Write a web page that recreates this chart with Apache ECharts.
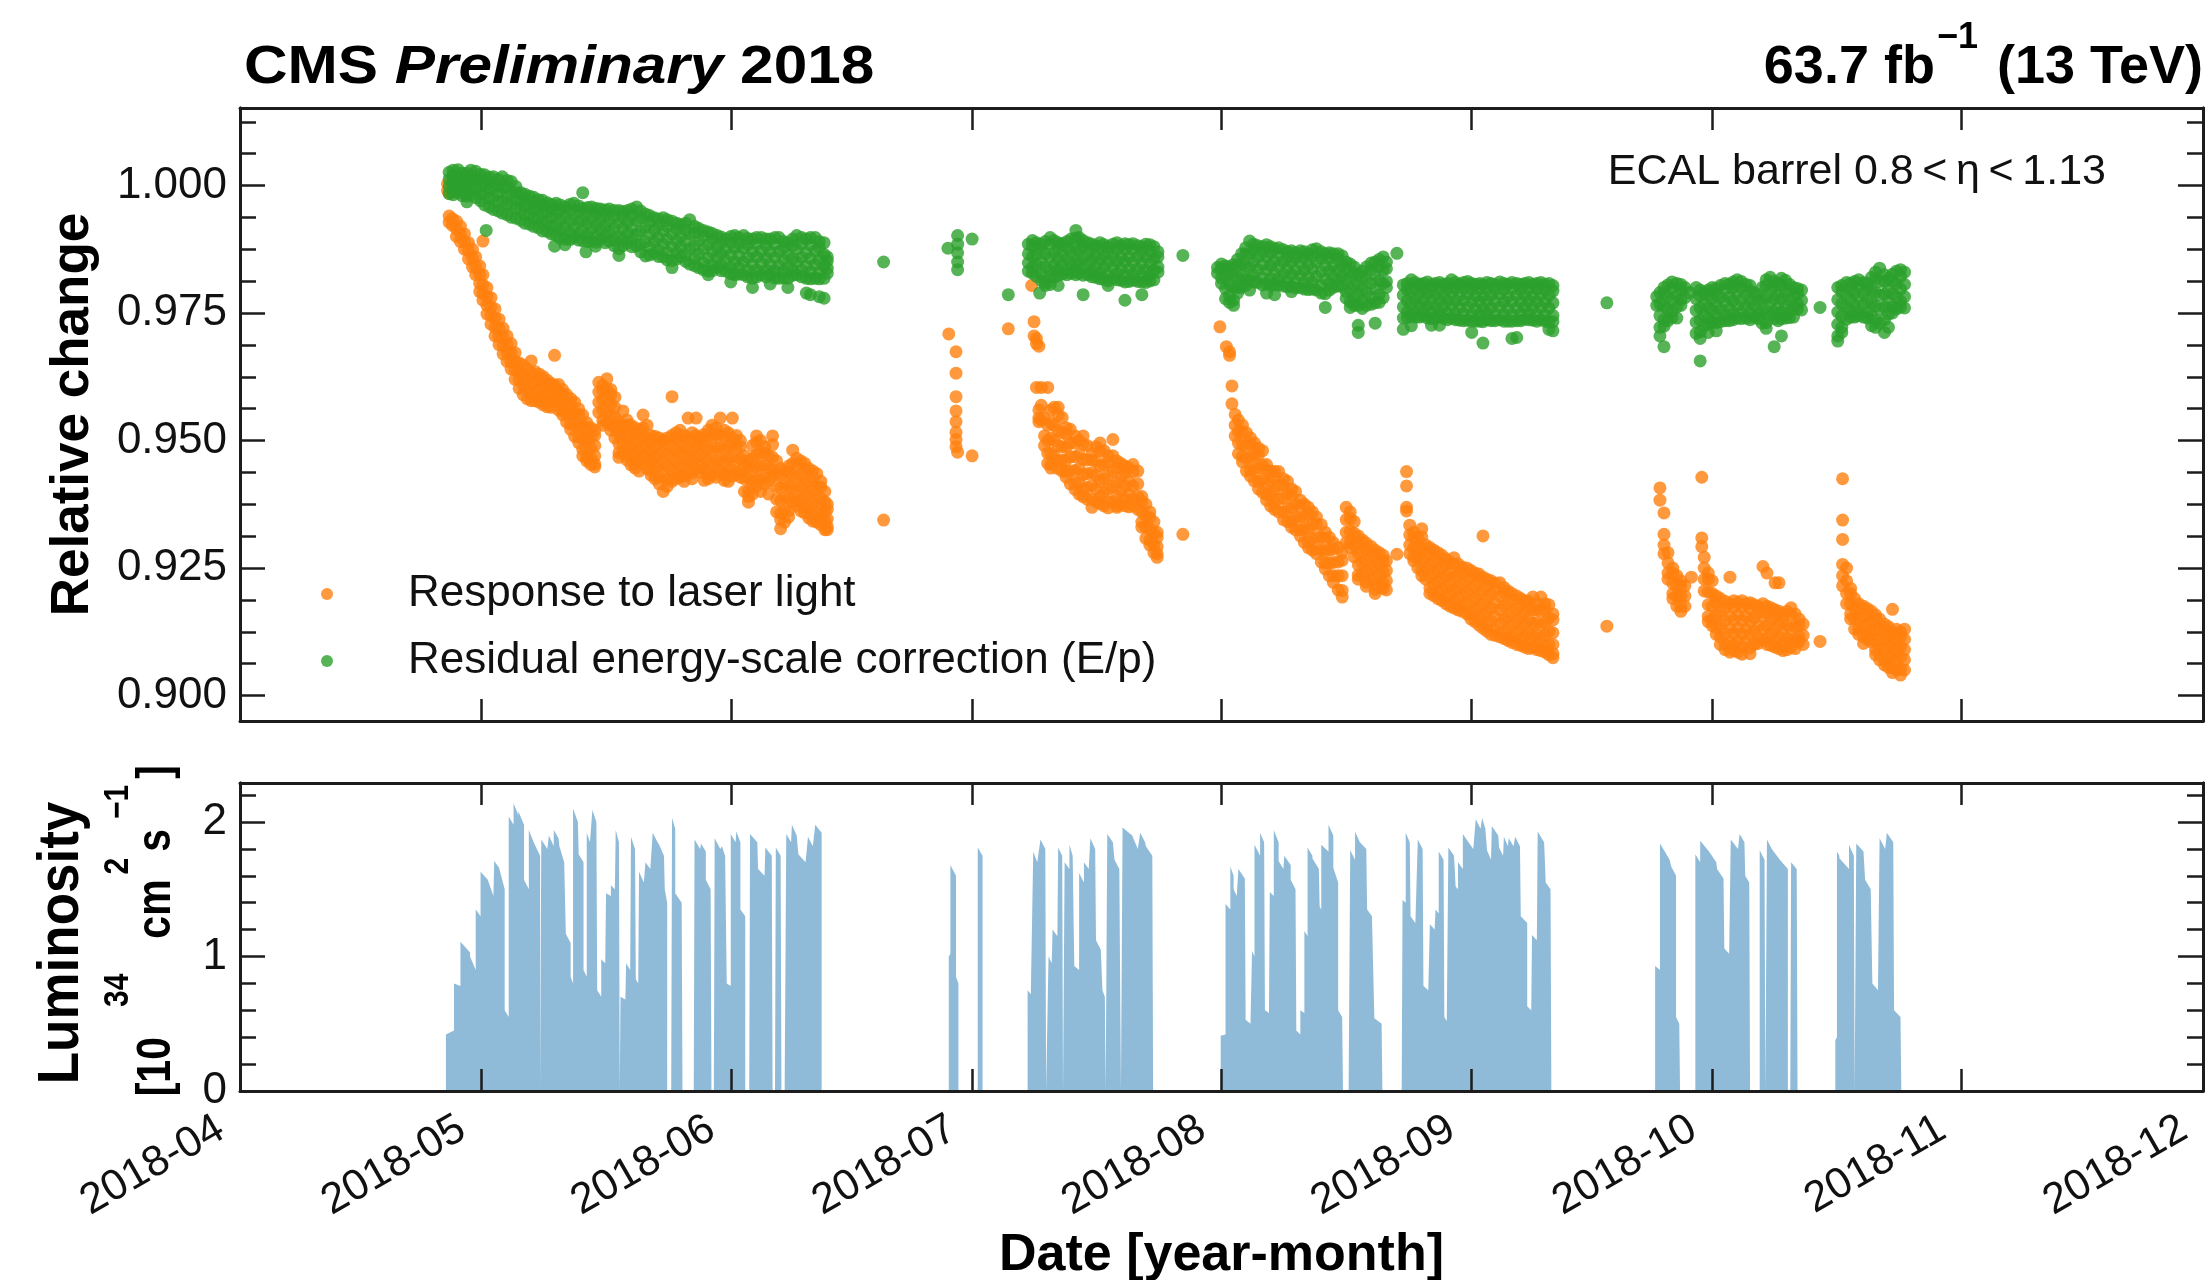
<!DOCTYPE html>
<html><head><meta charset="utf-8">
<script src="https://cdn.jsdelivr.net/npm/echarts@6/dist/echarts.min.js"></script>
<style>html,body{margin:0;padding:0;background:#fff}#c{width:2210px;height:1280px}</style>
</head><body><div id="c"></div>
<script>
// ---------- axis ticks (days since 2018-04-01) ----------
const monthDays = [0, 30, 61, 91, 122, 153, 183, 214, 244];
const monthLabels = ['2018-04', '2018-05', '2018-06', '2018-07', '2018-08', '2018-09', '2018-10', '2018-11', '2018-12'];
const relTicks = [0.900, 0.925, 0.950, 0.975, 1.000];
const relMinorTicks = [0.90625, 0.9125, 0.91875, 0.93125, 0.9375, 0.94375, 0.95625, 0.9625, 0.96875, 0.98125, 0.9875, 0.99375, 1.00625, 1.0125];
const lumiTicks = [0, 1, 2];
const lumiMinorTicks = [0.2, 0.4, 0.6, 0.8, 1.2, 1.4, 1.6, 1.8, 2.2];

// ---------- Response to laser light: [day, values...] ----------
const laserRows = [
[25.8,1.0003,0.9990],[26.0,0.9985,0.9940,0.9928],[26.4,0.9935,0.9922],[26.9,0.9930,0.9915,0.9900],
[27.4,0.9920,0.9905,0.9890],[27.9,0.9905,0.9890,0.9875],[28.4,0.9888,0.9872,0.9856],[28.9,0.9875,0.9858,0.9840],
[29.3,0.9860,0.9842,0.9825],[29.8,0.9842,0.9825,0.9808,0.9792],[30.2,0.9891,0.9825,0.9805,0.9788,0.9775],
[30.7,0.9800,0.9782,0.9765,0.9748],[31.2,0.9780,0.9762,0.9745,0.9728],[31.7,0.9758,0.9740,0.9722,0.9705],
[32.2,0.9738,0.9720,0.9704,0.9688],[32.7,0.9720,0.9702,0.9686,0.9670],[33.2,0.9705,0.9688,0.9672,0.9655],
[33.7,0.9690,0.9672,0.9655,0.9640],[34.2,0.9672,0.9655,0.9638,0.9620],[34.7,0.9652,0.9636,0.9620,0.9602],
[35.2,0.9648,0.9628,0.9608,0.9590],[35.7,0.9640,0.9620,0.9600,0.9582],[36.2,0.9656,0.9632,0.9612,0.9592,0.9578],
[36.7,0.9635,0.9615,0.9596,0.9578],[37.2,0.9630,0.9620,0.9601,0.9583,0.9575],[37.7,0.9625,0.9606,0.9588,0.9570],
[38.2,0.9618,0.9609,0.9591,0.9574,0.9566],[38.7,0.9612,0.9595,0.9578,0.9565],[39.1,0.9667,0.9608,0.9599,0.9582,0.9575],
[39.6,0.9610,0.9592,0.9575,0.9560],[40.1,0.9600,0.9591,0.9573,0.9557,0.9550],[40.6,0.9590,0.9572,0.9554,0.9536],
[41.1,0.9582,0.9572,0.9552,0.9532,0.9522],[41.6,0.9575,0.9553,0.9530,0.9508],[42.1,0.9562,0.9551,0.9529,0.9507,0.9496],
[42.6,0.9550,0.9528,0.9505,0.9483,0.9470],[43.1,0.9535,0.9525,0.9505,0.9485,0.9467,0.9460],[43.6,0.9525,0.9505,0.9485,0.9465,0.9453],
[44.1,0.9520,0.9510,0.9490,0.9470,0.9454,0.9448],
[44.6,0.9614,0.9595,0.9575,0.9555],[45.1,0.9608,0.9598,0.9580,0.9560,0.9540,0.9530],[45.6,0.9621,0.9600,0.9578,0.9555,0.9535],
[46.1,0.9600,0.9590,0.9570,0.9550,0.9530,0.9520],[46.6,0.9585,0.9565,0.9545,0.9525,0.9505],[47.1,0.9537,0.9528,0.9511,0.9494,0.9476,0.9467],
[47.6,0.9558,0.9530,0.9512,0.9494,0.9476],[48.1,0.9540,0.9530,0.9510,0.9490,0.9471,0.9462],[48.6,0.9530,0.9510,0.9490,0.9470,0.9452],
[49.1,0.9525,0.9515,0.9495,0.9475,0.9455,0.9446],[49.6,0.9520,0.9500,0.9480,0.9460,0.9440],[50.1,0.9550,0.9525,0.9505,0.9485,0.9465,0.9455],
[50.6,0.9530,0.9505,0.9485,0.9465,0.9445],[51.1,0.9510,0.9500,0.9480,0.9460,0.9441,0.9432],[51.6,0.9508,0.9488,0.9468,0.9448,0.9425],
[52.1,0.9505,0.9495,0.9473,0.9451,0.9428,0.9415],[52.6,0.9500,0.9478,0.9455,0.9432,0.9400],[53.1,0.9505,0.9493,0.9471,0.9449,0.9424,0.9410],
[53.7,0.9586,0.9510,0.9488,0.9465,0.9442,0.9420],[54.2,0.9515,0.9504,0.9481,0.9459,0.9436,0.9425],[54.7,0.9520,0.9498,0.9475,0.9450,0.9428],
[55.2,0.9510,0.9499,0.9476,0.9453,0.9431,0.9420],[55.7,0.9544,0.9505,0.9482,0.9460,0.9438],[56.2,0.9515,0.9503,0.9481,0.9459,0.9436,0.9425],
[56.7,0.9544,0.9510,0.9488,0.9466,0.9444],[57.2,0.9505,0.9493,0.9471,0.9449,0.9438],[57.7,0.9512,0.9490,0.9468,0.9445,0.9422],
[58.2,0.9520,0.9507,0.9482,0.9458,0.9435,0.9425],[58.7,0.9530,0.9505,0.9480,0.9455,0.9432],[59.2,0.9525,0.9512,0.9487,0.9462,0.9439,0.9428],
[59.7,0.9544,0.9510,0.9486,0.9462,0.9440],[60.2,0.9520,0.9507,0.9482,0.9457,0.9433,0.9422],[60.7,0.9515,0.9490,0.9466,0.9442,0.9420],
[61.2,0.9544,0.9505,0.9492,0.9467,0.9442,0.9430],[61.7,0.9510,0.9485,0.9460,0.9435],[62.2,0.9500,0.9488,0.9464,0.9440,0.9428],
[62.7,0.9470,0.9448,0.9425,0.9400],[63.2,0.9460,0.9449,0.9426,0.9402,0.9390,0.9379],[63.7,0.9490,0.9465,0.9442,0.9418,0.9395],
[64.2,0.9509,0.9497,0.9472,0.9447,0.9422,0.9410],[64.7,0.9500,0.9475,0.9450,0.9425,0.9400],[65.2,0.9488,0.9476,0.9452,0.9427,0.9415],
[65.7,0.9470,0.9445,0.9420,0.9395],[66.2,0.9509,0.9492,0.9467,0.9442,0.9430],[66.7,0.9460,0.9435,0.9410,0.9385,0.9360],
[67.2,0.9445,0.9432,0.9407,0.9382,0.9357,0.9345,0.9327],[67.7,0.9440,0.9415,0.9390,0.9365,0.9340],[68.2,0.9450,0.9437,0.9412,0.9387,0.9362,0.9350],
[68.7,0.9481,0.9455,0.9430,0.9405,0.9380],[69.2,0.9465,0.9452,0.9427,0.9402,0.9381,0.9372],[69.7,0.9460,0.9435,0.9410,0.9385,0.9362],
[70.2,0.9455,0.9442,0.9417,0.9392,0.9369,0.9358],[70.7,0.9445,0.9420,0.9395,0.9370,0.9348],[71.2,0.9440,0.9427,0.9402,0.9377,0.9353,0.9342],
[71.7,0.9435,0.9410,0.9385,0.9360,0.9340],[72.2,0.9420,0.9409,0.9386,0.9363,0.9343,0.9335],[72.7,0.9400,0.9380,0.9360,0.9342,0.9325],
[73.0,0.9375,0.9365,0.9346,0.9331,0.9325],
[80.0,0.9344],
[88.1,0.9709],[89.0,0.9674,0.9632,0.9586,0.9558,0.9537,0.9516,0.9502,0.9488],[89.2,0.9477],[91.0,0.9470],
[95.5,0.9719],
[98.4,0.9804],[98.7,0.9733,0.9705],[99.0,0.9700,0.9690,0.9604],[99.3,0.9685,0.9560,0.9544,0.9537],[99.6,0.9604,0.9569,0.9540],
[100.0,0.9544,0.9509,0.9490],[100.4,0.9604,0.9530,0.9500,0.9475,0.9455],[100.8,0.9560,0.9535,0.9505,0.9475,0.9453,0.9446],
[101.2,0.9565,0.9530,0.9500,0.9470],[101.7,0.9565,0.9550,0.9520,0.9490,0.9460,0.9445],[102.2,0.9545,0.9515,0.9488,0.9462,0.9440],
[102.7,0.9525,0.9512,0.9487,0.9462,0.9439,0.9428],[103.2,0.9522,0.9495,0.9468,0.9440,0.9415],[103.8,0.9509,0.9495,0.9468,0.9441,0.9416,0.9404],
[104.3,0.9500,0.9472,0.9445,0.9418,0.9395],[104.8,0.9509,0.9493,0.9463,0.9433,0.9404,0.9390],[105.3,0.9490,0.9462,0.9435,0.9408,0.9385],
[105.9,0.9474,0.9462,0.9437,0.9412,0.9385,0.9369],[106.4,0.9488,0.9460,0.9432,0.9405,0.9380],[106.9,0.9495,0.9480,0.9450,0.9420,0.9390,0.9376],
[107.4,0.9480,0.9452,0.9425,0.9398,0.9372],[107.9,0.9470,0.9457,0.9431,0.9405,0.9380,0.9368],[108.5,0.9502,0.9470,0.9440,0.9410,0.9380],
[109.0,0.9460,0.9446,0.9418,0.9391,0.9372,0.9369],[109.5,0.9455,0.9428,0.9400,0.9375],[110.0,0.9450,0.9437,0.9411,0.9385,0.9372],
[110.5,0.9446,0.9420,0.9395,0.9370],[111.0,0.9453,0.9439,0.9411,0.9385,0.9372],[111.6,0.9440,0.9415,0.9390,0.9365],
[112.1,0.9390,0.9380,0.9360,0.9340,0.9330],[112.6,0.9375,0.9352,0.9330,0.9308],[113.1,0.9360,0.9349,0.9327,0.9305,0.9295],
[113.6,0.9340,0.9318,0.9296,0.9280],[114.0,0.9320,0.9310,0.9292,0.9278,0.9271],
[117.2,0.9316],
[121.8,0.9723],[122.6,0.9684],[123.0,0.9674,0.9667],[123.3,0.9607,0.9572],[123.7,0.9551,0.9530,0.9509],
[124.1,0.9540,0.9518,0.9495,0.9474],[124.6,0.9530,0.9517,0.9492,0.9469,0.9458],[125.1,0.9515,0.9490,0.9465,0.9440],
[125.6,0.9505,0.9492,0.9467,0.9442,0.9430],[126.1,0.9495,0.9470,0.9445,0.9420],[126.6,0.9485,0.9472,0.9447,0.9420,0.9405],
[127.1,0.9480,0.9452,0.9425,0.9398],[127.6,0.9453,0.9441,0.9417,0.9394,0.9383],[128.1,0.9440,0.9418,0.9395,0.9372],
[128.6,0.9439,0.9427,0.9402,0.9377,0.9365],[129.1,0.9439,0.9412,0.9385,0.9360],[129.7,0.9425,0.9412,0.9387,0.9360,0.9345],
[130.2,0.9420,0.9395,0.9368,0.9341],[130.7,0.9405,0.9392,0.9367,0.9342,0.9330],[131.2,0.9400,0.9375,0.9350,0.9325],
[131.8,0.9383,0.9371,0.9348,0.9325,0.9313],[132.3,0.9375,0.9350,0.9325,0.9300],[132.8,0.9369,0.9355,0.9328,0.9302,0.9290],
[133.3,0.9360,0.9335,0.9308,0.9285],[133.8,0.9350,0.9337,0.9312,0.9289,0.9278],[134.4,0.9335,0.9310,0.9285,0.9262],
[134.9,0.9320,0.9308,0.9284,0.9260,0.9248],[135.4,0.9310,0.9285,0.9260,0.9235],[135.9,0.9300,0.9287,0.9261,0.9235,0.9222],
[136.5,0.9290,0.9262,0.9235,0.9207],[137.0,0.9280,0.9265,0.9235,0.9206,0.9193],[137.5,0.9369,0.9345,0.9320,0.9300],
[138.0,0.9360,0.9347,0.9322,0.9300,0.9290],[138.5,0.9341,0.9318,0.9295,0.9272],[139.0,0.9313,0.9301,0.9279,0.9256,0.9236,0.9228],
[139.5,0.9305,0.9282,0.9260,0.9238],[140.0,0.9299,0.9287,0.9265,0.9243,0.9222,0.9214],[140.6,0.9292,0.9270,0.9248,0.9226],
[141.1,0.9285,0.9273,0.9251,0.9229,0.9208,0.9200],[141.6,0.9280,0.9258,0.9236,0.9214],[142.1,0.9275,0.9263,0.9241,0.9220,0.9210],
[142.5,0.9264,0.9245,0.9225,0.9207],
[143.8,0.9277],
[145.0,0.9439,0.9411,0.9369,0.9362],[145.4,0.9334,0.9315,0.9295,0.9278],[145.9,0.9320,0.9310,0.9290,0.9272,0.9264],
[146.4,0.9310,0.9290,0.9270,0.9250],[146.9,0.9327,0.9311,0.9289,0.9267,0.9245,0.9235],[147.4,0.9295,0.9272,0.9250,0.9228],
[147.9,0.9290,0.9279,0.9256,0.9233,0.9211,0.9200],[148.4,0.9285,0.9262,0.9240,0.9218,0.9196],[148.9,0.9280,0.9269,0.9246,0.9223,0.9201,0.9190],
[149.4,0.9275,0.9252,0.9230,0.9208,0.9186],[149.9,0.9268,0.9257,0.9235,0.9213,0.9191,0.9180],[150.4,0.9262,0.9240,0.9218,0.9196,0.9175],
[150.9,0.9270,0.9257,0.9232,0.9207,0.9183,0.9172],[151.4,0.9258,0.9235,0.9212,0.9190,0.9168],[151.9,0.9252,0.9241,0.9219,0.9197,0.9175,0.9165],
[152.5,0.9250,0.9226,0.9202,0.9180,0.9160],[153.0,0.9245,0.9232,0.9208,0.9184,0.9161,0.9150],[153.5,0.9240,0.9215,0.9190,0.9166,0.9145],
[154.0,0.9238,0.9225,0.9199,0.9173,0.9149,0.9138],[154.5,0.9313,0.9232,0.9206,0.9180,0.9155,0.9132],[155.0,0.9228,0.9215,0.9189,0.9163,0.9138,0.9126],
[155.5,0.9225,0.9198,0.9172,0.9146,0.9120],[156.0,0.9220,0.9207,0.9181,0.9155,0.9130,0.9118],[156.6,0.9221,0.9195,0.9168,0.9140,0.9115],
[157.1,0.9212,0.9200,0.9175,0.9149,0.9124,0.9112],[157.6,0.9205,0.9180,0.9155,0.9130,0.9108],[158.1,0.9200,0.9188,0.9163,0.9138,0.9114,0.9104],
[158.7,0.9195,0.9170,0.9146,0.9122,0.9100],[159.2,0.9190,0.9178,0.9154,0.9130,0.9108,0.9098],[159.7,0.9186,0.9162,0.9138,0.9115,0.9095],
[160.2,0.9185,0.9172,0.9148,0.9124,0.9102,0.9092],[160.7,0.9193,0.9168,0.9142,0.9118,0.9094],[161.2,0.9180,0.9168,0.9143,0.9119,0.9099,0.9090],
[161.7,0.9193,0.9165,0.9138,0.9112,0.9088],[162.2,0.9180,0.9168,0.9143,0.9118,0.9095,0.9085],[162.7,0.9178,0.9152,0.9126,0.9100,0.9080],
[163.2,0.9160,0.9148,0.9123,0.9100,0.9082,0.9074],
[169.9,0.9136],
[176.5,0.9407,0.9383],[177.0,0.9358,0.9316,0.9295,0.9278],[177.5,0.9280,0.9260,0.9240,0.9228],[178.1,0.9250,0.9240,0.9220,0.9200,0.9190],
[178.6,0.9235,0.9215,0.9195,0.9175],[179.1,0.9225,0.9215,0.9195,0.9175,0.9165],[179.6,0.9215,0.9195,0.9175],[180.4,0.9232],
[181.7,0.9428,0.9309,0.9292],[182.0,0.9271,0.9250,0.9228,0.9205],[182.5,0.9240,0.9228,0.9203,0.9178,0.9155,0.9145],
[183.0,0.9225,0.9200,0.9175,0.9150,0.9137],[183.5,0.9195,0.9183,0.9158,0.9133,0.9120],[184.0,0.9190,0.9165,0.9140,0.9115,0.9100],
[184.6,0.9185,0.9172,0.9147,0.9122,0.9100,0.9090],[185.2,0.9232,0.9180,0.9155,0.9130,0.9105,0.9085],[185.7,0.9186,0.9173,0.9148,0.9122,0.9099,0.9088],
[186.2,0.9182,0.9158,0.9132,0.9108,0.9085],[186.7,0.9186,0.9173,0.9147,0.9121,0.9095,0.9081],[187.2,0.9180,0.9155,0.9130,0.9105],
[187.7,0.9182,0.9170,0.9145,0.9119,0.9094,0.9082],[188.2,0.9178,0.9152,0.9126,0.9100],[188.7,0.9175,0.9162,0.9137,0.9113,0.9102],
[189.3,0.9253,0.9180,0.9155,0.9130,0.9108],[189.8,0.9240,0.9175,0.9162,0.9137,0.9112,0.9100],[190.3,0.9172,0.9148,0.9122,0.9098],
[190.8,0.9221,0.9168,0.9155,0.9130,0.9106,0.9095],[191.3,0.9221,0.9165,0.9140,0.9115,0.9092],[191.8,0.9160,0.9147,0.9122,0.9099,0.9088],
[192.3,0.9165,0.9138,0.9112,0.9090],[192.8,0.9172,0.9158,0.9131,0.9106,0.9095],[193.3,0.9160,0.9135,0.9110,0.9092],
[193.8,0.9150,0.9137,0.9115,0.9105],[194.3,0.9140,0.9118,0.9100],
[196.4,0.9106],
[199.2,0.9425,0.9344,0.9306,0.9257,0.9235,0.9215],[199.7,0.9250,0.9225,0.9200,0.9180],[200.2,0.9210,0.9200,0.9180,0.9160,0.9150],
[200.7,0.9190,0.9170,0.9150,0.9130],[201.2,0.9180,0.9170,0.9150,0.9130,0.9120],[201.8,0.9175,0.9155,0.9135,0.9115,0.9102],
[202.3,0.9170,0.9160,0.9140,0.9120,0.9110],[202.8,0.9165,0.9145,0.9125,0.9105],[203.3,0.9158,0.9148,0.9128,0.9108,0.9089,0.9080],
[203.8,0.9150,0.9130,0.9110,0.9090,0.9070],[204.4,0.9140,0.9130,0.9110,0.9090,0.9070,0.9060],[204.9,0.9135,0.9115,0.9095,0.9075,0.9055],
[205.4,0.9169,0.9125,0.9115,0.9095,0.9075,0.9055,0.9045],[205.9,0.9130,0.9110,0.9090,0.9070,0.9050],[206.4,0.9125,0.9115,0.9095,0.9075,0.9052,0.9040],
[206.9,0.9130,0.9110,0.9090,0.9070,0.9050]
];

// ---------- Residual energy-scale correction (E/p): [day, values...] ----------
const epRows = [
[26.0,1.0026,1.0012,0.9998,0.9984],[26.5,1.0030,1.0020,1.0008,0.9995,0.9982],[27.1,1.0031,1.0018,1.0004,0.9986],
[27.6,1.0024,1.0014,1.0003,0.9991,0.9980],[28.2,1.0024,1.0010,0.9995,0.9979,0.9968],[28.7,1.0030,1.0019,1.0006,0.9993,0.9982],
[29.3,1.0028,1.0012,0.9994,0.9976],[29.9,1.0022,1.0011,0.9998,0.9984,0.9970],[30.4,1.0021,1.0003,0.9985,0.9962],[30.6,0.9912],
[31.0,1.0016,1.0005,0.9991,0.9975,0.9958],[31.5,1.0017,0.9999,0.9978,0.9953],[32.1,1.0012,1.0000,0.9985,0.9968,0.9950],
[32.6,1.0017,0.9996,0.9970,0.9946],[33.2,1.0010,0.9998,0.9982,0.9964,0.9943],[33.7,1.0008,0.9985,0.9962,0.9938],
[34.3,0.9998,0.9986,0.9972,0.9955,0.9936],[34.9,0.9986,0.9970,0.9952,0.9932],[35.4,0.9983,0.9974,0.9960,0.9943,0.9926],
[36.0,0.9979,0.9962,0.9944,0.9924],[36.5,0.9977,0.9967,0.9953,0.9936,0.9920],[37.1,0.9972,0.9955,0.9936,0.9917],
[37.6,0.9971,0.9961,0.9946,0.9927,0.9911],[38.2,0.9966,0.9948,0.9928,0.9910],[38.7,0.9963,0.9954,0.9938,0.9920,0.9905],
[39.1,0.9881],[39.3,0.9965,0.9945,0.9922,0.9902],[39.8,0.9962,0.9952,0.9934,0.9913,0.9897],[40.4,0.9958,0.9938,0.9916,0.9895,0.9884],
[41.0,0.9963,0.9951,0.9930,0.9908,0.9894],[41.5,0.9965,0.9944,0.9920,0.9898],[42.1,0.9960,0.9949,0.9929,0.9906,0.9893],
[42.6,0.9986,0.9955,0.9932,0.9910,0.9892],[43.0,0.9870],[43.2,0.9957,0.9946,0.9925,0.9903,0.9890],[43.7,0.9958,0.9937,0.9915,0.9891],
[44.2,0.9881],[44.3,0.9955,0.9944,0.9923,0.9902,0.9889],[44.8,0.9954,0.9933,0.9914,0.9895],[45.4,0.9952,0.9941,0.9920,0.9900,0.9888],
[45.9,0.9954,0.9932,0.9910,0.9891],[46.5,0.9951,0.9939,0.9916,0.9894,0.9882],[47.1,0.9951,0.9926,0.9900,0.9876,0.9863],
[47.6,0.9949,0.9937,0.9915,0.9895,0.9882],[48.2,0.9951,0.9929,0.9907,0.9888],[48.7,0.9954,0.9941,0.9918,0.9895,0.9880],
[49.3,0.9958,0.9932,0.9904,0.9881],[49.8,0.9950,0.9937,0.9911,0.9885,0.9870],[50.4,0.9944,0.9918,0.9890,0.9862],
[50.9,0.9941,0.9928,0.9904,0.9879,0.9864],[51.5,0.9937,0.9913,0.9890,0.9867],[52.0,0.9934,0.9922,0.9898,0.9874,0.9861],
[52.6,0.9937,0.9911,0.9885,0.9860],[53.1,0.9933,0.9920,0.9895,0.9869,0.9854],[53.7,0.9930,0.9905,0.9880,0.9853,0.9839],
[54.3,0.9926,0.9914,0.9891,0.9869,0.9856],[54.8,0.9923,0.9900,0.9880,0.9860],[55.4,0.9926,0.9913,0.9890,0.9865,0.9851],
[55.9,0.9933,0.9905,0.9876,0.9846],[56.5,0.9920,0.9907,0.9882,0.9857,0.9843],[57.0,0.9916,0.9892,0.9866,0.9839],
[57.6,0.9912,0.9900,0.9875,0.9849,0.9835],[58.2,0.9909,0.9884,0.9858,0.9832,0.9825],[58.7,0.9906,0.9894,0.9870,0.9845,0.9833],
[59.3,0.9902,0.9880,0.9860,0.9839],[59.8,0.9899,0.9888,0.9866,0.9844,0.9833],[60.4,0.9895,0.9875,0.9853,0.9832],
[61.0,0.9900,0.9888,0.9864,0.9840,0.9827,0.9811],[61.5,0.9902,0.9878,0.9850,0.9825],[62.0,0.9898,0.9886,0.9863,0.9839,0.9826],
[62.6,0.9902,0.9877,0.9850,0.9825],[63.1,0.9896,0.9884,0.9859,0.9834,0.9821],[63.7,0.9895,0.9870,0.9845,0.9818,0.9800],
[64.2,0.9898,0.9885,0.9860,0.9834,0.9821],[64.8,0.9898,0.9872,0.9848,0.9825],[65.4,0.9895,0.9882,0.9858,0.9834,0.9821],
[65.9,0.9895,0.9870,0.9845,0.9825,0.9807],[66.5,0.9898,0.9885,0.9859,0.9833,0.9819],[67.0,0.9898,0.9870,0.9843,0.9818],
[67.6,0.9890,0.9878,0.9854,0.9831,0.9819],[68.1,0.9888,0.9864,0.9840,0.9818,0.9800],[68.7,0.9895,0.9882,0.9857,0.9835,0.9824],
[69.2,0.9902,0.9875,0.9850,0.9825],[69.8,0.9898,0.9885,0.9859,0.9834,0.9821],[70.4,0.9895,0.9868,0.9842,0.9818,0.9789],
[70.9,0.9898,0.9884,0.9857,0.9831,0.9817,0.9786],[71.5,0.9898,0.9872,0.9845,0.9818],[72.0,0.9890,0.9878,0.9854,0.9830,0.9817,0.9782],
[72.6,0.9888,0.9865,0.9842,0.9818,0.9779],[73.0,0.9860,0.9852,0.9838,0.9828],
[80.0,0.9850],
[88.0,0.9877],[89.2,0.9902,0.9885,0.9868,0.9850,0.9835],[91.0,0.9895],
[95.5,0.9786],
[98.0,0.9885,0.9866,0.9848,0.9832],[98.5,0.9892,0.9881,0.9861,0.9840,0.9828],[99.0,0.9888,0.9866,0.9845,0.9822],[99.4,0.9789],
[99.6,0.9885,0.9874,0.9850,0.9826,0.9814],[100.1,0.9890,0.9866,0.9840,0.9810,0.9804],[100.7,0.9898,0.9885,0.9859,0.9834,0.9821,0.9806],
[101.2,0.9892,0.9868,0.9844,0.9820],[101.7,0.9888,0.9877,0.9855,0.9835,0.9824,0.9804],[102.2,0.9886,0.9865,0.9845,0.9826],
[102.8,0.9890,0.9879,0.9857,0.9836,0.9825],[103.3,0.9895,0.9870,0.9848,0.9828],[103.9,0.9912,0.9897,0.9874,0.9851,0.9836,0.9825],
[104.3,0.9898,0.9874,0.9850,0.9828],[104.8,0.9892,0.9881,0.9858,0.9836,0.9824,0.9786],[105.4,0.9888,0.9866,0.9845,0.9825],
[105.9,0.9885,0.9875,0.9853,0.9832,0.9821],[106.4,0.9882,0.9862,0.9840,0.9820],[106.9,0.9888,0.9876,0.9854,0.9830,0.9817],
[107.4,0.9884,0.9862,0.9840,0.9816],[107.9,0.9880,0.9870,0.9849,0.9826,0.9813,0.9804],[108.5,0.9885,0.9862,0.9840,0.9818],
[109.0,0.9888,0.9876,0.9852,0.9828,0.9815],[109.5,0.9882,0.9860,0.9837,0.9814],[110.0,0.9886,0.9874,0.9850,0.9825,0.9811,0.9775],
[110.5,0.9884,0.9860,0.9836,0.9812],[111.0,0.9886,0.9874,0.9850,0.9827,0.9814],[111.6,0.9882,0.9860,0.9836,0.9812],
[112.1,0.9880,0.9869,0.9846,0.9823,0.9811,0.9786],[112.6,0.9885,0.9860,0.9834,0.9810],[113.1,0.9884,0.9872,0.9848,0.9825,0.9813],
[113.6,0.9880,0.9856,0.9834,0.9815],[114.1,0.9870,0.9860,0.9840,0.9830],
[117.2,0.9863],
[121.5,0.9839,0.9828],[122.0,0.9846,0.9837,0.9819,0.9808],[122.5,0.9842,0.9820,0.9798,0.9778],[123.0,0.9840,0.9829,0.9806,0.9784,0.9771],
[123.5,0.9845,0.9822,0.9800,0.9775,0.9765],[124.0,0.9855,0.9843,0.9821,0.9800,0.9789],[124.5,0.9866,0.9845,0.9822,0.9800],
[125.0,0.9878,0.9866,0.9842,0.9817,0.9804],[125.5,0.9891,0.9865,0.9840,0.9815,0.9795],[126.0,0.9885,0.9873,0.9850,0.9825,0.9811],
[126.5,0.9882,0.9860,0.9835,0.9810],[127.1,0.9880,0.9869,0.9845,0.9819,0.9805],[127.6,0.9884,0.9860,0.9834,0.9808,0.9789],
[128.1,0.9880,0.9868,0.9843,0.9817,0.9804],[128.6,0.9876,0.9852,0.9828,0.9805,0.9786],[129.1,0.9878,0.9866,0.9842,0.9818,0.9805],
[129.7,0.9874,0.9850,0.9826,0.9803],[130.2,0.9870,0.9859,0.9836,0.9813,0.9801],[130.7,0.9872,0.9850,0.9826,0.9802,0.9792],
[131.2,0.9868,0.9857,0.9834,0.9811,0.9799],[131.8,0.9872,0.9848,0.9824,0.9800],[132.3,0.9870,0.9858,0.9834,0.9810,0.9797],
[132.8,0.9866,0.9844,0.9820,0.9796],[133.3,0.9874,0.9862,0.9837,0.9811,0.9797],[133.8,0.9876,0.9850,0.9822,0.9795],
[134.4,0.9870,0.9857,0.9831,0.9804,0.9789],[134.9,0.9866,0.9842,0.9816,0.9788,0.9761],[135.4,0.9868,0.9857,0.9832,0.9808,0.9795],
[135.9,0.9866,0.9844,0.9822,0.9800],[136.5,0.9866,0.9856,0.9834,0.9814,0.9803],[137.0,0.9862,0.9842,0.9822,0.9802],
[137.5,0.9850,0.9839,0.9816,0.9792,0.9779],[138.0,0.9846,0.9822,0.9798,0.9772,0.9761],[138.5,0.9840,0.9828,0.9804,0.9779,0.9765],
[139.0,0.9825,0.9805,0.9785,0.9765,0.9726,0.9712],[139.5,0.9832,0.9820,0.9796,0.9772,0.9759],[140.0,0.9840,0.9815,0.9790,0.9765],
[140.6,0.9848,0.9835,0.9808,0.9781,0.9767],[141.1,0.9850,0.9825,0.9798,0.9770,0.9730],[141.6,0.9855,0.9841,0.9814,0.9786,0.9771],
[142.1,0.9860,0.9835,0.9808,0.9780],[142.5,0.9850,0.9837,0.9812,0.9800],
[143.8,0.9867],
[144.6,0.9805,0.9785,0.9762,0.9740,0.9718],[145.1,0.9808,0.9796,0.9774,0.9752,0.9741],[145.6,0.9815,0.9792,0.9768,0.9745,0.9725],
[146.1,0.9810,0.9798,0.9776,0.9754,0.9742],[146.6,0.9806,0.9785,0.9763,0.9742],[147.1,0.9808,0.9797,0.9776,0.9755,0.9744],
[147.6,0.9811,0.9788,0.9764,0.9740],[148.1,0.9806,0.9795,0.9773,0.9751,0.9739,0.9726],[148.6,0.9808,0.9786,0.9763,0.9740],
[149.1,0.9810,0.9798,0.9776,0.9754,0.9742,0.9726],[149.6,0.9806,0.9784,0.9762,0.9740],[150.1,0.9808,0.9797,0.9774,0.9750,0.9737],
[150.6,0.9815,0.9790,0.9765,0.9740],[151.1,0.9810,0.9798,0.9774,0.9750,0.9737],[151.6,0.9806,0.9784,0.9760,0.9736],
[152.1,0.9810,0.9799,0.9774,0.9749,0.9735],[152.6,0.9812,0.9788,0.9762,0.9736],[153.1,0.9808,0.9796,0.9772,0.9747,0.9734,0.9712],
[153.6,0.9806,0.9783,0.9758,0.9734],[154.1,0.9808,0.9797,0.9772,0.9747,0.9734],[154.5,0.9805,0.9782,0.9758,0.9733,0.9691],
[155.0,0.9810,0.9798,0.9774,0.9750,0.9737],[155.5,0.9808,0.9785,0.9760,0.9735],[156.0,0.9806,0.9795,0.9772,0.9748,0.9735],
[156.6,0.9811,0.9787,0.9762,0.9737],[157.1,0.9808,0.9796,0.9772,0.9747,0.9734],[157.6,0.9806,0.9782,0.9758,0.9734],
[158.1,0.9810,0.9798,0.9773,0.9747,0.9734,0.9700],[158.7,0.9808,0.9785,0.9760,0.9735,0.9702],[159.2,0.9806,0.9795,0.9772,0.9748,0.9735],
[159.7,0.9808,0.9785,0.9762,0.9738],[160.2,0.9810,0.9798,0.9774,0.9750,0.9737],[160.7,0.9806,0.9783,0.9760,0.9736],
[161.2,0.9808,0.9797,0.9772,0.9747,0.9734],[161.7,0.9810,0.9786,0.9762,0.9737],[162.2,0.9806,0.9795,0.9772,0.9747,0.9734],
[162.7,0.9808,0.9785,0.9760,0.9733,0.9718],[163.2,0.9804,0.9793,0.9770,0.9745,0.9733,0.9715],
[169.9,0.9770],
[176.1,0.9782,0.9765],[176.5,0.9790,0.9768,0.9745,0.9722,0.9705],[177.0,0.9800,0.9788,0.9763,0.9737,0.9724,0.9684],
[177.5,0.9805,0.9782,0.9758,0.9735],[178.0,0.9811,0.9799,0.9776,0.9753,0.9741],[178.6,0.9808,0.9785,0.9762,0.9740],
[179.1,0.9806,0.9796,0.9776,0.9765],[179.6,0.9800,0.9780],[180.2,0.9790],
[181.0,0.9800,0.9778,0.9755,0.9732,0.9710],[181.5,0.9795,0.9784,0.9760,0.9736,0.9713,0.9700,0.9656],[182.0,0.9790,0.9768,0.9746,0.9725],
[182.5,0.9795,0.9784,0.9761,0.9739,0.9728,0.9712],[183.0,0.9800,0.9778,0.9755,0.9732],[183.5,0.9798,0.9787,0.9765,0.9743,0.9731,0.9715],
[184.0,0.9804,0.9780,0.9756,0.9733],[184.6,0.9808,0.9796,0.9772,0.9748,0.9735],[185.1,0.9806,0.9782,0.9758,0.9735],
[185.6,0.9811,0.9799,0.9774,0.9750,0.9737],[186.1,0.9815,0.9790,0.9765,0.9740],[186.6,0.9812,0.9800,0.9776,0.9752,0.9739],
[187.2,0.9806,0.9785,0.9762,0.9740],[187.7,0.9804,0.9793,0.9771,0.9749,0.9737],[188.2,0.9790,0.9765,0.9742],
[188.7,0.9786,0.9774,0.9751,0.9739],[189.2,0.9800,0.9776,0.9752,0.9730],[189.7,0.9815,0.9804,0.9780,0.9755,0.9731,0.9720],
[190.2,0.9820,0.9795,0.9770,0.9745],[190.7,0.9812,0.9800,0.9777,0.9752,0.9739,0.9684],[191.2,0.9808,0.9785,0.9760,0.9735],
[191.6,0.9818,0.9805,0.9778,0.9752,0.9739,0.9705],[192.1,0.9814,0.9790,0.9765,0.9740],[192.6,0.9806,0.9795,0.9774,0.9752,0.9741],
[193.1,0.9800,0.9780,0.9760,0.9742],[193.6,0.9798,0.9788,0.9768,0.9758],[194.1,0.9795,0.9775,0.9756],
[196.4,0.9761],
[198.6,0.9800,0.9776,0.9752,0.9728,0.9705,0.9695],[199.1,0.9804,0.9792,0.9768,0.9744,0.9722,0.9712],[199.7,0.9810,0.9786,0.9762,0.9738],
[200.2,0.9808,0.9797,0.9775,0.9753,0.9742],[200.7,0.9812,0.9790,0.9766,0.9742],[201.2,0.9815,0.9803,0.9780,0.9756,0.9745],
[201.8,0.9810,0.9788,0.9765,0.9742],[202.3,0.9808,0.9797,0.9774,0.9751,0.9740],[202.8,0.9820,0.9795,0.9770,0.9745,0.9725],
[203.3,0.9830,0.9817,0.9791,0.9764,0.9736,0.9722],[203.8,0.9838,0.9812,0.9785,0.9758,0.9730],[204.4,0.9825,0.9812,0.9787,0.9762,0.9737,0.9712],
[204.9,0.9818,0.9795,0.9772,0.9748,0.9722],[205.4,0.9826,0.9813,0.9788,0.9762,0.9750],[205.9,0.9832,0.9808,0.9782,0.9758],
[206.4,0.9835,0.9822,0.9797,0.9773,0.9762],[206.9,0.9830,0.9806,0.9782,0.9760]
];

// ---------- Luminosity [10^34 cm^-2 s^-1]: fills as [startDay, startValue, endDay, endValue] ----------
const lumiRows = [
[0,0,25.6,0],[25.6,0.42,26.6,0.45],[26.6,0.80,27.4,0.78],[27.4,1.11,28.6,1.03],[28.6,1.00,29.3,0.90],[29.3,1.35,29.9,1.30],
[29.9,1.63,30.8,1.57],[30.8,1.57,31.5,1.45],[31.6,1.71,32.2,1.66],[32.2,1.66,32.9,1.50],[32.9,0.60,33.4,0.55],
[33.4,2.04,34.0,1.98],[34.0,2.14,34.6,2.05],[34.6,2.08,35.3,1.98],[35.3,1.57,35.9,1.50],[35.9,1.94,36.5,1.85],
[36.6,1.84,37.3,1.75],[37.3,0,37.45,0],[37.45,1.87,38.2,1.80],[38.4,1.90,39.0,1.82],[39.0,1.94,39.6,1.88],
[39.7,1.82,40.3,1.70],[40.5,1.17,41.1,1.10],[41.1,0.85,41.4,0.80],[41.4,2.10,42.0,2.00],[42.1,1.76,42.7,1.70],
[42.7,0.90,43.1,0.85],[43.1,1.92,43.5,1.85],[43.8,2.09,44.3,2.00],[44.4,0.75,44.9,0.70],[44.9,0.98,45.4,0.95],
[45.5,1.47,46.1,1.45],[46.1,1.53,46.6,1.50],[46.7,1.94,47.1,1.85],[47.2,0,47.3,0],[47.3,0.70,47.9,0.68],
[48.0,0.95,48.5,0.90],[48.6,1.89,49.1,1.80],[49.2,0.83,49.5,0.80],[49.6,1.63,50.2,1.55],[50.4,1.70,51.0,1.65],
[51.3,1.92,51.9,1.85],[52.1,1.83,52.7,1.75],[52.8,1.50,53.1,1.40],[53.1,0,53.6,0],[53.7,2.03,54.1,1.95],
[54.1,1.47,54.9,1.40],[55.0,0,56.4,0],[56.5,1.87,57.2,1.80],[57.3,1.84,57.9,1.78],[57.9,1.57,58.5,1.50],
[58.6,0,58.9,0],[59.0,1.88,59.7,1.80],[59.9,1.82,60.3,1.75],[60.5,0.80,61.0,0.78],[61.0,1.91,61.6,1.85],
[61.7,1.93,62.2,1.85],[62.2,1.35,62.8,1.30],[62.8,0,63.3,0],[63.4,1.91,64.3,1.85],[64.4,1.65,65.2,1.60],
[65.3,1.81,66.1,1.75],[66.2,0,66.5,0],[66.6,1.81,67.2,1.75],[67.3,0,67.7,0],[67.9,1.91,68.5,1.85],
[68.6,1.98,69.2,1.90],[69.4,1.76,70.3,1.70],[70.6,1.89,71.2,1.82],[71.5,1.98,72.3,1.92],[72.3,0,88.1,0],
[88.1,1.00,88.3,1.02],[88.3,1.68,89.0,1.60],[89.0,0.85,89.3,0.80],[89.3,0,91.7,0],[91.7,1.81,92.3,1.75],
[92.3,0,97.9,0],[97.9,0.75,98.3,0.72],[98.6,1.78,99.1,1.70],[99.5,1.87,100.1,1.80],[100.2,0,100.4,0],
[100.5,1.00,100.9,0.95],[101.0,1.20,101.6,1.15],[101.7,1.81,102.2,1.75],[102.3,0,102.4,0],[102.5,1.70,103.1,1.65],
[103.1,1.83,103.5,1.75],[103.7,0.93,104.3,0.90],[104.3,1.62,104.9,1.55],[104.9,1.70,105.5,1.65],[105.7,1.88,106.3,1.80],
[106.4,1.12,107.0,1.05],[107.2,0.75,107.5,0.70],[107.6,0,107.7,0],[107.8,1.91,108.5,1.85],[108.7,1.72,109.3,1.65],
[109.5,0,109.6,0],[109.7,1.96,110.9,1.90],[111.1,1.87,111.6,1.80],[111.9,1.92,112.5,1.85],[112.6,1.82,113.4,1.75],
[113.5,0,121.9,0],
[121.9,0.41,122.5,0.42],[122.5,1.39,123.1,1.35],[123.1,1.67,123.5,1.60],[123.5,1.50,123.9,1.45],[124.1,1.65,124.9,1.58],
[125.0,0.53,125.6,0.50],[125.8,1.04,126.1,1.00],[126.1,1.83,126.8,1.75],[126.8,1.92,127.3,1.85],[127.4,0.60,127.9,0.58],
[128.0,1.48,128.5,1.45],[128.5,1.94,129.1,1.85],[129.1,1.71,129.7,1.65],[129.8,1.75,130.6,1.68],[130.6,1.57,131.2,1.50],
[131.3,0.45,131.8,0.42],[131.8,0.60,132.3,0.58],[132.3,1.19,132.7,1.15],[132.7,1.81,133.3,1.75],[133.3,1.73,134.1,1.65],
[134.2,1.37,134.4,1.35],[134.4,1.83,135.3,1.78],[135.3,1.98,135.9,1.90],[135.9,1.66,136.5,1.55],[136.5,0.60,137.0,0.55],
[137.1,0,137.8,0],[138.0,1.79,138.6,1.72],[138.6,1.93,139.2,1.85],[139.4,1.86,140.0,1.80],[140.1,1.35,140.7,1.30],
[141.0,0.54,141.9,0.50],[142.0,0,144.4,0],
[144.5,1.42,144.9,1.40],[144.9,1.92,145.4,1.85],[145.5,1.30,146.1,1.25],[146.4,1.87,147.0,1.80],[147.1,0.78,147.7,0.75],
[147.9,1.24,148.5,1.20],[148.6,1.35,149.0,1.32],[149.0,1.78,149.6,1.72],[149.7,0.55,150.0,0.52],[150.2,1.81,150.9,1.75],
[151.1,1.52,151.4,1.50],[151.4,1.70,152.0,1.65],[152.0,1.91,152.7,1.85],[152.9,1.86,153.3,1.80],[153.6,2.02,154.2,1.95],
[154.4,2.03,154.8,1.95],[155.0,1.79,155.5,1.72],[155.6,1.97,156.4,1.90],[156.5,1.81,157.0,1.75],[157.1,1.89,157.6,1.82],
[157.7,1.88,158.3,1.82],[158.5,1.89,159.1,1.82],[159.2,1.30,160.0,1.25],[160.0,0.63,160.5,0.60],[160.6,1.16,161.2,1.12],
[161.3,1.93,162.1,1.85],[162.3,1.55,162.9,1.50],[163.0,0,175.9,0],
[175.9,0.93,176.5,0.90],[176.5,1.84,177.1,1.78],[177.1,1.79,177.7,1.72],[177.9,1.67,178.5,1.60],[178.5,0.55,178.9,0.50],
[179.0,0,180.9,0],[180.9,1.76,181.5,1.70],[181.5,1.86,182.6,1.78],[182.7,1.78,183.5,1.70],[183.6,1.65,184.4,1.58],
[184.5,1.06,185.1,1.02],[185.3,1.87,186.2,1.80],[186.4,1.91,187.0,1.85],[187.1,1.60,187.6,1.55],[187.7,0,188.9,0],
[188.9,1.79,189.5,1.72],[189.6,0,189.7,0],[189.8,1.87,190.4,1.80],[190.6,1.79,191.4,1.72],[191.6,1.72,192.4,1.65],
[192.4,0,192.7,0],[192.8,1.70,193.5,1.65],[193.6,0,198.3,0],
[198.3,0.38,198.5,0.40],[198.5,1.78,198.8,1.75],[198.8,1.73,200.0,1.65],[200.0,1.83,200.6,1.75],[200.7,0,200.8,0],
[200.9,1.84,201.8,1.78],[202.0,1.57,202.7,1.50],[202.9,0.80,203.6,0.75],[203.8,1.88,204.5,1.80],[204.7,1.92,205.5,1.85],
[205.6,0.60,206.4,0.55],[206.5,0,244,0]
];

// ---------- reshape for the library ----------
function rowsToPoints(rows) {
  const pts = [];
  rows.forEach(r => { for (let i = 1; i < r.length; i++) pts.push([r[0], r[i]]); });
  return pts;
}
const laserPts = rowsToPoints(laserRows);
const epPts = rowsToPoints(epRows);
const lumiLine = [];
lumiRows.forEach(r => { lumiLine.push([r[0], r[1]], [r[2], r[3]]); });

const FONT = '"Liberation Sans", Arial, Helvetica, sans-serif';
const INK = '#111';
const AXC = '#1c1c1c';
const X_MIN = 0, X_MAX = 244;
const REL_MIN = 0.895, REL_MAX = 1.0152;
const LUMI_MIN = 0, LUMI_MAX = 2.29;

function xAxisDef(grid, pos, labels) {
  const ax = {
    type: 'value', gridIndex: grid, position: pos, min: X_MIN, max: X_MAX, z: 10,
    axisLine: { show: true, onZero: false, lineStyle: { color: AXC, width: 3 } },
    axisTick: { show: true, inside: true, length: 22, customValues: monthDays, lineStyle: { color: AXC, width: 2.5 } },
    axisLabel: { show: false },
    splitLine: { show: false }
  };
  if (labels) {
    ax.axisLabel = {
      show: true, customValues: monthDays, rotate: 30, margin: 24, fontSize: 43, color: INK, fontFamily: FONT,
      padding: [0, 22, 0, 0],
      formatter: v => monthLabels[monthDays.indexOf(Math.round(v))]
    };
    ax.name = 'Date [year-month]';
    ax.nameLocation = 'middle';
    ax.nameGap = 117;
    ax.nameTextStyle = { fontSize: 52, fontWeight: 'bold', color: '#000', fontFamily: FONT, lineHeight: 60 };
  }
  return ax;
}
function yAxisDef(grid, pos, min, max, ticks, len, labels, fmt) {
  const ax = {
    type: 'value', gridIndex: grid, position: pos, min: min, max: max, z: 10,
    axisLine: { show: true, onZero: false, lineStyle: { color: AXC, width: 3 } },
    axisTick: { show: true, inside: true, length: len, customValues: ticks, lineStyle: { color: AXC, width: 2.5 } },
    axisLabel: { show: false },
    splitLine: { show: false }
  };
  if (labels) {
    ax.axisLabel = { show: true, customValues: ticks, margin: 13, fontSize: 44, color: INK, fontFamily: FONT, formatter: fmt };
  }
  return ax;
}

const yRelLeft = yAxisDef(0, 'left', REL_MIN, REL_MAX, relTicks, 25, true, v => v.toFixed(3));
yRelLeft.name = 'Relative change';
yRelLeft.nameLocation = 'middle';
yRelLeft.nameRotate = 90;
yRelLeft.nameGap = 137;
yRelLeft.nameTextStyle = { fontSize: 53, fontWeight: 'bold', color: '#000', fontFamily: FONT, lineHeight: 60 };

const supStyle = { fontSize: 30, fontWeight: 'bold', lineHeight: 30, verticalAlign: 'top', fill: '#000', fontFamily: FONT };
const mainStyle = { fontSize: 41, fontWeight: 'bold', lineHeight: 46, verticalAlign: 'bottom', fill: '#000', fontFamily: FONT };

const option = {
  animation: false,
  backgroundColor: '#ffffff',
  textStyle: { fontFamily: FONT },
  grid: [
    { left: 240, right: 7, top: 108, height: 613, show: false, outerBoundsMode: 'none', containLabel: false },
    { left: 240, right: 7, top: 783, height: 308, show: false, outerBoundsMode: 'none', containLabel: false }
  ],
  xAxis: [
    xAxisDef(0, 'bottom', false),
    xAxisDef(0, 'top', false),
    xAxisDef(1, 'bottom', true),
    xAxisDef(1, 'top', false)
  ],
  yAxis: [
    yRelLeft,
    yAxisDef(0, 'left', REL_MIN, REL_MAX, relMinorTicks, 16, false),
    yAxisDef(0, 'right', REL_MIN, REL_MAX, relTicks, 25, false),
    yAxisDef(0, 'right', REL_MIN, REL_MAX, relMinorTicks, 16, false),
    yAxisDef(1, 'left', LUMI_MIN, LUMI_MAX, lumiTicks, 25, true, v => String(Math.round(v))),
    yAxisDef(1, 'left', LUMI_MIN, LUMI_MAX, lumiMinorTicks, 16, false),
    yAxisDef(1, 'right', LUMI_MIN, LUMI_MAX, lumiTicks, 25, false),
    yAxisDef(1, 'right', LUMI_MIN, LUMI_MAX, lumiMinorTicks, 16, false)
  ],
  legend: {
    orient: 'vertical', left: 316, top: 564, itemWidth: 12, itemHeight: 12, itemGap: 17, icon: 'circle',
    selectedMode: false,
    textStyle: { fontSize: 44, color: INK, fontFamily: FONT, lineHeight: 50, padding: [0, 0, 0, 70] },
    data: ['Response to laser light', 'Residual energy-scale correction (E/p)']
  },
  series: [
    {
      name: 'Response to laser light', type: 'scatter', xAxisIndex: 0, yAxisIndex: 0,
      symbol: 'circle', symbolSize: 13, large: false,
      itemStyle: { color: '#ff7f0e', opacity: 0.8 },
      data: laserPts
    },
    {
      name: 'Residual energy-scale correction (E/p)', type: 'scatter', xAxisIndex: 0, yAxisIndex: 0,
      symbol: 'circle', symbolSize: 13, large: false,
      itemStyle: { color: '#2ca02c', opacity: 0.8 },
      data: epPts
    },
    {
      name: 'Luminosity', type: 'line', xAxisIndex: 2, yAxisIndex: 4,
      showSymbol: false, symbol: 'none', smooth: false,
      lineStyle: { width: 0, color: 'rgba(31,119,180,0.5)' },
      areaStyle: { color: 'rgba(31,119,180,0.5)', opacity: 1 },
      data: lumiLine
    }
  ],
  graphic: [
    {
      type: 'text', x: 244, y: 68, scaleX: 1.117,
      style: {
        text: '{b|CMS }{bi|Preliminary}{b| 2018}', align: 'left', verticalAlign: 'middle',
        rich: {
          b: { fontSize: 54, fontWeight: 'bold', fill: '#000', fontFamily: FONT },
          bi: { fontSize: 54, fontWeight: 'bold', fontStyle: 'italic', fill: '#000', fontFamily: FONT }
        }
      }
    },
    {
      type: 'text', x: 2203, y: 20,
      style: {
        text: '{sp|\u200a}{b|63.7 fb}{s|\u22121}{b| (13 TeV)}', align: 'right', verticalAlign: 'top',
        rich: {
          sp: { fontSize: 8, lineHeight: 75 },
          b: { fontSize: 54, fontWeight: 'bold', lineHeight: 54, verticalAlign: 'bottom', fill: '#000', fontFamily: FONT },
          s: { fontSize: 36, fontWeight: 'bold', lineHeight: 34, verticalAlign: 'top', fill: '#000', fontFamily: FONT, padding: [0, 4, 0, 2] }
        }
      }
    },
    {
      type: 'text', x: 2106, y: 172,
      style: {
        text: 'ECAL barrel 0.8\u2009<\u2009\u03b7\u2009<\u20091.13', align: 'right', verticalAlign: 'middle',
        fontSize: 43, fill: INK, fontFamily: FONT
      }
    },
    {
      type: 'text', x: 62, y: 943, rotation: Math.PI / 2, scaleY: 1.1,
      style: { text: 'Luminosity', align: 'center', verticalAlign: 'middle', fontSize: 53, fontWeight: 'bold', fill: '#000', fontFamily: FONT }
    },
    {
      type: 'text', x: 140.5, y: 931, rotation: Math.PI / 2, scaleY: 1.15,
      style: {
        text: '{sp|\u200a}{m|[10}{s1|34}{m2|cm}{s2|2}{m3|s}{s3|\u22121}{m4|]}', align: 'center', verticalAlign: 'middle',
        rich: {
          sp: { fontSize: 8, lineHeight: 69 },
          m: mainStyle,
          m2: Object.assign({}, mainStyle, { padding: [0, 0, 0, 35] }),
          m3: Object.assign({}, mainStyle, { padding: [0, 0, 0, 6] }),
          m4: Object.assign({}, mainStyle, { padding: [0, 0, 0, 6] }),
          s1: Object.assign({}, supStyle, { padding: [0, 0, 0, 30] }),
          s2: Object.assign({}, supStyle, { padding: [0, 0, 0, 5] }),
          s3: Object.assign({}, supStyle, { padding: [0, 0, 0, 10] })
        }
      }
    }
  ]
};

const chart = echarts.init(document.getElementById('c'), null, { renderer: 'canvas', width: 2210, height: 1280 });
chart.setOption(option);
</script>
</body></html>
